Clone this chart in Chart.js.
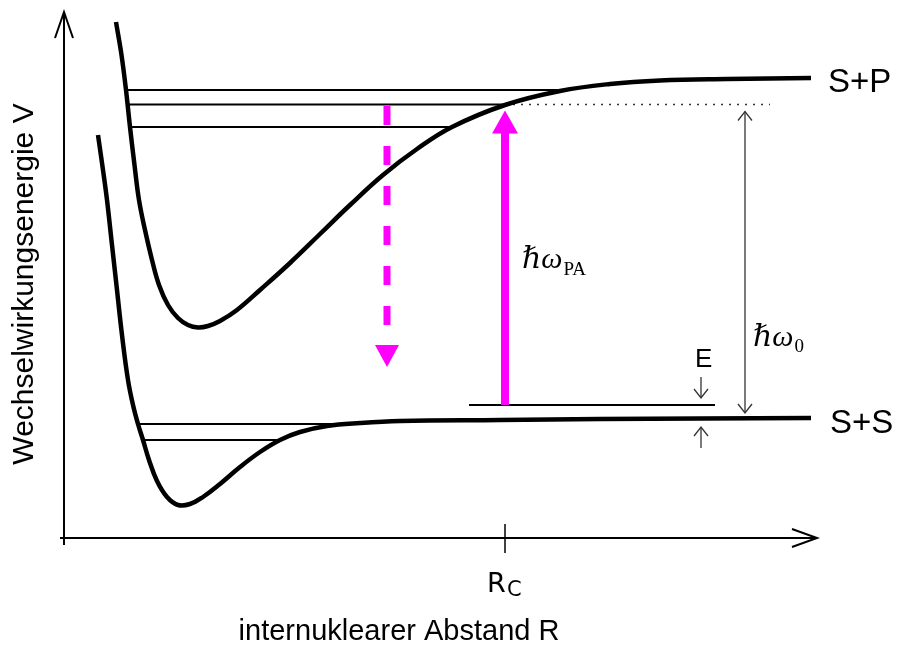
<!DOCTYPE html>
<html>
<head>
<meta charset="utf-8">
<script src="https://cdn.jsdelivr.net/npm/chart.js@4.4.1/dist/chart.umd.min.js"></script>
<style>
  body { margin: 0; background: #fff; }
  canvas { display: block; }
</style>
</head>
<body>
<canvas id="chart" width="897" height="646"></canvas>
<script>
// R: internuklearer Abstand (willkürl. Einheiten), V: Energie relativ zur S+S-Asymptote
const upperR = [0.52, 0.575, 0.62, 0.66, 0.705, 0.75, 0.81, 0.88, 0.95, 1.04, 1.14, 1.24, 1.34, 1.44, 1.56,
  1.73, 1.96, 2.26, 2.56, 2.86, 3.19, 3.53, 3.88, 4.41, 4.96, 5.46, 5.96, 6.63, 7.47];
const upperV = [3.96, 3.63, 3.28, 2.91, 2.53, 2.18, 1.88, 1.58, 1.33, 1.13, 1.00, 0.93, 0.905, 0.92, 0.97,
  1.08, 1.28, 1.55, 1.84, 2.13, 2.43, 2.69, 2.91, 3.13, 3.27, 3.34, 3.375, 3.39, 3.40];
const lowerR = [0.34, 0.39, 0.43, 0.48, 0.53, 0.58, 0.64, 0.69, 0.74, 0.79, 0.85, 0.93, 1.03, 1.14, 1.26,
  1.39, 1.56, 1.76, 1.96, 2.16, 2.36, 2.63, 2.96, 3.36, 4.36, 5.36, 6.36, 7.47];
const lowerV = [2.83, 2.48, 2.18, 1.73, 1.28, 0.83, 0.38, 0.13, -0.06, -0.22, -0.42, -0.63, -0.79, -0.87, -0.86,
  -0.79, -0.66, -0.49, -0.34, -0.22, -0.14, -0.08, -0.05, -0.03, -0.02, -0.01, -0.005, 0];

// gebundene Niveaus: Energie, innerer / äusserer Umkehrpunkt
const upperLevels = [3.28, 3.135, 2.91];
const upperLevelFrom = [0.63, 0.64, 0.67];
const upperLevelTo = [4.96, 4.41, 3.88];
const lowerLevels = [-0.06, -0.22];
const lowerLevelFrom = [0.76, 0.81];
const lowerLevelTo = [2.76, 2.16];

const collisionE = 0.13;          // Stossenergie E
const collisionRange = [4.05, 6.51];
const Rc = 4.41;                  // Condon-Punkt
const dottedTo = 7.06;
const decayR = 3.23;
const decayEnd = 0.51;
const omega0R = 6.81;
const energyArrowR = 6.37;
const axisV = -1.2;
const axisREnd = 7.53;
const axisVTop = 4.06;

const pts = (xs, ys) => xs.map((x, i) => ({ x: x, y: ys[i] }));

function seg(x1, y1, x2, y2, color, width, dash) {
  return {
    data: [{ x: x1, y: y1 }, { x: x2, y: y2 }],
    borderColor: color, borderWidth: width, borderDash: dash || [],
    tension: 0, borderCapStyle: 'butt'
  };
}

const datasets = [
  { data: pts(upperR, upperV), borderColor: '#000', borderWidth: 4.5, tension: 0.4, borderJoinStyle: 'round' },
  { data: pts(lowerR, lowerV), borderColor: '#000', borderWidth: 4.5, tension: 0.4, borderJoinStyle: 'round' }
];
upperLevels.forEach((v, i) => datasets.push(seg(upperLevelFrom[i], v, upperLevelTo[i], v, '#000', 2)));
lowerLevels.forEach((v, i) => datasets.push(seg(lowerLevelFrom[i], v, lowerLevelTo[i], v, '#000', 2)));
datasets.push(seg(collisionRange[0], collisionE, collisionRange[1], collisionE, '#000', 2));
datasets.push(seg(Rc, upperLevels[1], dottedTo, upperLevels[1], '#333', 1.5, [2, 6]));

function openHead(ctx, x, y, dx, dy, len, half) {
  // dx,dy: Richtung der Spitze (Einheitsvektor)
  const bx = x - dx * len, by = y - dy * len;
  ctx.beginPath();
  ctx.moveTo(bx - dy * half, by + dx * half);
  ctx.lineTo(x, y);
  ctx.lineTo(bx + dy * half, by - dx * half);
  ctx.stroke();
}

function filledHead(ctx, x, y, dx, dy, len, half) {
  const bx = x - dx * len, by = y - dy * len;
  ctx.beginPath();
  ctx.moveTo(bx - dy * half, by + dx * half);
  ctx.lineTo(x, y);
  ctx.lineTo(bx + dy * half, by - dx * half);
  ctx.closePath();
  ctx.fill();
}

function line(ctx, x1, y1, x2, y2) {
  ctx.beginPath();
  ctx.moveTo(x1, y1);
  ctx.lineTo(x2, y2);
  ctx.stroke();
}

const sketch = {
  id: 'sketch',
  afterDatasetsDraw(chart) {
    const ctx = chart.ctx;
    const sx = v => chart.scales.x.getPixelForValue(v);
    const sy = v => chart.scales.y.getPixelForValue(v);
    ctx.save();
    ctx.lineCap = 'butt';

    // Achsen
    ctx.strokeStyle = '#000';
    ctx.lineWidth = 2;
    const ox = sx(0), oy = sy(axisV);
    line(ctx, ox, oy + 7, ox, sy(axisVTop));
    openHead(ctx, ox, sy(axisVTop), 0, -1, 26, 9);
    line(ctx, ox - 4, oy, sx(axisREnd), oy);
    openHead(ctx, sx(axisREnd), oy, 1, 0, 25, 9);
    ctx.lineWidth = 1.5;
    line(ctx, sx(Rc), oy - 14, sx(Rc), oy + 15);

    // Photoassoziation (magenta, durchgezogen)
    ctx.strokeStyle = '#ff00ff';
    ctx.fillStyle = '#ff00ff';
    ctx.lineWidth = 8;
    const paTip = sy(upperLevels[1]) + 6;
    line(ctx, sx(Rc), sy(collisionE), sx(Rc), paTip + 22);
    filledHead(ctx, sx(Rc), paTip, 0, -1, 23, 13);

    // Zerfall (magenta, gestrichelt)
    ctx.lineWidth = 7;
    ctx.setLineDash([19, 21]);
    const decTip = sy(decayEnd);
    line(ctx, sx(decayR), sy(upperLevels[1]) + 1.5, sx(decayR), decTip - 22);
    ctx.setLineDash([]);
    filledHead(ctx, sx(decayR), decTip, 0, 1, 22, 12);

    // hbar omega_0 und E Pfeile
    ctx.strokeStyle = '#333';
    ctx.lineWidth = 1.3;
    const wx = sx(omega0R);
    const wTop = sy(upperLevels[1]) + 7, wBot = sy(0) - 5;
    line(ctx, wx, wTop, wx, wBot);
    openHead(ctx, wx, wTop, 0, -1, 9, 7);
    openHead(ctx, wx, wBot, 0, 1, 9, 7);
    const ex = sx(energyArrowR);
    const eTop = sy(collisionE) - 7, eBot = sy(0) + 9;
    line(ctx, ex, eTop - 21, ex, eTop);
    openHead(ctx, ex, eTop, 0, 1, 9, 7);
    line(ctx, ex, eBot + 21, ex, eBot);
    openHead(ctx, ex, eBot, 0, -1, 9, 7);

    // Beschriftungen
    ctx.fillStyle = '#000';
    ctx.textBaseline = 'alphabetic';
    ctx.textAlign = 'left';
    ctx.font = '33px "Liberation Sans", Arial, sans-serif';
    ctx.fillText('S+P', sx(upperR[upperR.length - 1]) + 17, sy(upperV[upperV.length - 1]) + 14);
    ctx.fillText('S+S', sx(lowerR[lowerR.length - 1]) + 19, sy(0) + 15);
    ctx.font = '26px "Liberation Sans", Arial, sans-serif';
    ctx.fillText('E', ex - 6, sy(collisionE) - 38);

    ctx.font = '27px "DejaVu Sans", sans-serif';
    ctx.fillText('R', sx(Rc) - 18, oy + 54);
    ctx.font = '21px "DejaVu Sans", sans-serif';
    ctx.fillText('C', sx(Rc) + 2, oy + 58);

    ctx.textAlign = 'center';
    ctx.font = '29px "Liberation Sans", Arial, sans-serif';
    ctx.fillText('internuklearer Abstand R', 399, 640);
    ctx.font = '30px "Liberation Sans", Arial, sans-serif';
    ctx.save();
    ctx.translate(33, 284);
    ctx.rotate(-Math.PI / 2);
    ctx.fillText('Wechselwirkungsenergie V', 0, 0);
    ctx.restore();

    ctx.textAlign = 'left';
    const serifIt = 'italic 30px "Liberation Serif", "DejaVu Serif", serif';
    const serifUp = '"Liberation Serif", "DejaVu Serif", serif';
    ctx.font = serifIt;
    const hw = '\u210F\u03C9';
    let tx = sx(Rc) + 17;
    ctx.fillText(hw, tx, 268);
    tx += ctx.measureText(hw).width + 1;
    ctx.font = '19px ' + serifUp;
    ctx.fillText('PA', tx, 275);

    ctx.font = serifIt;
    tx = wx + 8;
    ctx.fillText(hw, tx, 346);
    tx += ctx.measureText(hw).width + 1;
    ctx.font = '19px ' + serifUp;
    ctx.fillText('0', tx, 352);

    ctx.restore();
  }
};

new Chart(document.getElementById('chart'), {
  type: 'line',
  data: { datasets: datasets },
  options: {
    responsive: false,
    animation: false,
    events: [],
    layout: { padding: 0 },
    elements: { point: { radius: 0 }, line: { fill: false } },
    plugins: { legend: { display: false }, tooltip: { enabled: false } },
    scales: {
      x: { type: 'linear', min: -0.64, max: 8.33, display: false },
      y: { type: 'linear', min: -2.28, max: 4.18, display: false }
    }
  },
  plugins: [sketch]
});
</script>
</body>
</html>
